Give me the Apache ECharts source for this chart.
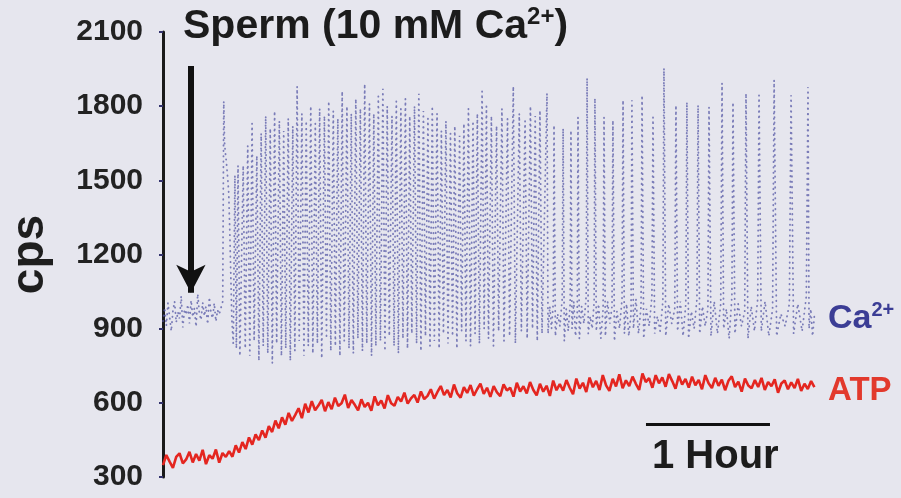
<!DOCTYPE html>
<html>
<head>
<meta charset="utf-8">
<script src="https://cdn.jsdelivr.net/npm/echarts@6/dist/echarts.min.js"></script>
<style>
html, body { margin: 0; padding: 0; background: #e6e6ee; }
#chart { width: 901px; height: 498px; }
</style>
</head>
<body>
<div id="chart"></div>
<script>
// time axis in minutes, y in cps
var yMin = 300, yMax = 2100, yStep = 300;

// Ca2+ trace before sperm addition (one reading every caPreStep min)
var caPreStep = 0.8;
var caPreValues = [930, 985, 912, 1004, 948, 890, 972, 1010, 925, 968,
  941, 1032, 905, 979, 956, 998, 921, 1015, 947, 983,
  908, 1041, 962, 935, 1006, 951, 990, 918, 1027, 964,
  942, 1003, 929, 975, 958];

// first response right after sperm
var caTransTime = [28.0, 28.9, 29.4, 29.8, 30.2, 30.6, 31.0, 31.4, 31.8, 32.3, 32.8, 33.3, 34.0, 34.8, 35.5, 36.3, 37.2];
var caTransValues = [955, 1010, 1820, 1650, 1610, 1580, 1540, 1500, 1450, 1300, 1120, 940, 840, 1520, 820, 1560, 790];

// fast oscillations: spike times, peaks and the trough after each
var denseTime = [38.8, 41.0, 43.1, 45.4, 47.5, 49.7, 51.9, 54.0, 56.3, 58.4,
  60.6, 62.8, 64.9, 67.2, 69.3, 71.5, 73.7, 75.8, 78.1, 80.2,
  82.4, 84.6, 86.7, 89.0, 91.1, 93.3, 95.5, 97.6, 99.9, 102.0,
  104.2, 106.4, 108.5, 110.8, 112.9, 115.1, 117.3, 119.4, 121.7, 123.8,
  126.0, 128.2, 130.3, 132.6, 134.7, 136.9, 139.1, 141.2, 143.5, 145.6,
  147.8, 150.0, 152.1, 154.4, 156.5, 158.9, 161.4, 164.0, 166.7, 169.5,
  172.4, 175.2, 177.8, 180.1, 182.4];
var densePeak = [1560, 1640, 1730, 1600, 1690, 1760, 1710, 1780, 1740, 1700,
  1750, 1720, 1880, 1770, 1740, 1800, 1730, 1790, 1760, 1820,
  1780, 1750, 1860, 1800, 1770, 1830, 1790, 1890, 1810, 1770,
  1840, 1870, 1800, 1760, 1820, 1790, 1830, 1760, 1800, 1850,
  1780, 1750, 1800, 1770, 1700, 1740, 1690, 1720, 1680, 1730,
  1790, 1740, 1770, 1860, 1800, 1760, 1720, 1790, 1750, 1880,
  1770, 1740, 1800, 1760, 1783];
var denseTrough = [820, 790, 850, 770, 830, 800, 760, 840, 790, 820,
  770, 810, 850, 790, 830, 800, 840, 780, 860, 810,
  830, 790, 850, 820, 800, 860, 810, 840, 790, 830,
  850, 810, 870, 830, 800, 860, 820, 880, 840, 810,
  870, 830, 850, 820, 880, 840, 870, 820, 890, 850,
  830, 880, 840, 900, 860, 830, 890, 850, 870, 840,
  890, 860, 900, 850, 880];

// slower oscillations: spike times, peaks, and 4 baseline readings between spikes
var sparseTime = [185.8, 189.2, 193.6, 197.4, 200.8, 205.2, 209.0, 213.4, 217.7, 222.6,
  226.9, 231.8, 237.1, 242.4, 248.2, 253.5, 258.9, 264.2, 270.5, 275.8,
  282.1, 288.4, 295.7, 303.9, 312.1];
var sparsePeak = [1852, 1723, 1710, 1702, 1755, 1913, 1832, 1755, 1743, 1824,
  1824, 1844, 1755, 1954, 1804, 1816, 1804, 1796, 1893, 1816,
  1852, 1844, 1905, 1844, 1877];
var sparseBase = [880, 990, 900, 1010, 870, 960, 910, 1020, 850, 980, 890, 1000,
  900, 1010, 870, 970, 860, 990, 920, 1030, 880, 950, 900, 1010,
  890, 1000, 860, 980, 870, 1010, 920, 990, 850, 970, 900, 1020,
  880, 1000, 870, 960, 900, 1020, 880, 990, 860, 980, 910, 1030,
  880, 950, 890, 1010, 870, 1000, 920, 980, 890, 1010, 870, 1000,
  860, 970, 900, 1020, 880, 990, 910, 980, 870, 1010, 880, 1000,
  900, 980, 860, 1030, 880, 1000, 910, 970, 860, 990, 890, 1020,
  890, 1010, 870, 980, 870, 960, 910, 1000, 880, 1000, 890, 1030,
  900, 980, 870, 950];
var lastGap = 3.4;

// ATP trace, one reading every atpStep min
var atpStep = 1.6;
var atpValues = [348, 389, 362, 337, 381, 396, 355, 371, 402, 359,
  393, 366, 410, 352, 388, 374, 411, 358, 397, 381,
  405, 382, 428, 399, 441, 413, 460, 431, 472, 449,
  488, 459, 506, 482, 528, 497, 541, 512, 559, 527,
  551, 578, 538, 596, 561, 607, 570, 589, 612, 566,
  603, 574, 621, 587, 598, 633, 579, 611, 592, 570,
  614, 583, 600, 568, 626, 590, 609, 577, 631, 598,
  588, 624, 605, 641, 597, 618, 632, 601, 646, 615,
  628, 655, 617, 644, 668, 631, 652, 622, 674, 638,
  621, 663, 640, 672, 629, 655, 678, 636, 661, 624,
  668, 642, 627, 675, 650, 661, 625, 681, 646, 667,
  638, 684, 652, 630, 677, 645, 669, 628, 690, 651,
  676, 649, 692, 661, 635, 698, 658, 681, 644, 702,
  663, 689, 652, 712, 671, 648, 697, 666, 715, 659,
  691, 668, 706, 677, 652, 719, 684, 700, 661, 712,
  679, 703, 665, 716, 688, 657, 709, 674, 697, 662,
  706, 671, 693, 655, 712, 679, 660, 701, 669, 694,
  651, 689, 707, 664, 686, 645, 698, 670, 659, 692,
  664, 701, 652, 684, 667, 695, 641, 678, 690, 655,
  683, 660, 697, 648, 677, 656, 688, 664];

// annotations (data coords)
var arrowTime = 13.5, arrowFrom = 1962, arrowTo = 1045;
var barFrom = 233.7, barTo = 293.7, barLevel = 515;

var caData = [];
var i, k;
for (i = 0; i < caPreValues.length; i++) caData.push([i * caPreStep, caPreValues[i]]);
for (i = 0; i < caTransTime.length; i++) caData.push([caTransTime[i], caTransValues[i]]);
for (i = 0; i < denseTime.length; i++) {
  caData.push([denseTime[i], densePeak[i]]);
  caData.push([denseTime[i] + 1.0, denseTrough[i]]);
}
var frac = [0.15, 0.4, 0.65, 0.9];
for (i = 0; i < sparseTime.length; i++) {
  caData.push([sparseTime[i], sparsePeak[i]]);
  var gap = i < sparseTime.length - 1 ? sparseTime[i + 1] - sparseTime[i] : lastGap;
  for (k = 0; k < 4; k++) caData.push([sparseTime[i] + gap * frac[k], sparseBase[i * 4 + k]]);
}

var atpData = [];
for (i = 0; i < atpValues.length; i++) atpData.push([i * atpStep, atpValues[i]]);

var font = 'Liberation Sans';
var chart = echarts.init(document.getElementById('chart'));
chart.setOption({
  backgroundColor: '#e6e6ee',
  animation: false,
  grid: { left: 163, right: 56, top: 32, bottom: 21, containLabel: false, outerBoundsMode: 'none' },
  xAxis: { type: 'value', min: 0, max: 330, show: false },
  yAxis: {
    type: 'value', min: yMin, max: yMax, interval: yStep,
    name: 'cps', nameLocation: 'middle', nameGap: 110, nameRotate: 90,
    nameTextStyle: { fontSize: 46, fontWeight: 'bold', color: '#1e1e1e', fontFamily: font },
    axisLine: { show: true, lineStyle: { color: '#1a1a1a', width: 3 } },
    axisTick: { show: true, length: 4, lineStyle: { color: '#33336e', width: 2 } },
    axisLabel: {
      fontSize: 30, fontWeight: 'bold', color: '#222', margin: 20, fontFamily: font,
      formatter: function (v) { return String(v); }
    },
    splitLine: { show: false }
  },
  series: [
    {
      type: 'line', data: caData, showSymbol: false, sampling: null,
      lineStyle: { color: '#5558a6', width: 1.8, type: [0.4, 5], cap: 'round', opacity: 0.75 },
      z: 2
    },
    {
      type: 'line', data: atpData, showSymbol: false,
      lineStyle: { color: '#e42620', width: 2.6 },
      z: 3,
      markLine: {
        silent: true, animation: false,
        label: { show: false },
        data: [
          [{ coord: [arrowTime, arrowFrom], symbol: 'none', lineStyle: { width: 6, color: '#111', type: 'solid' } },
           { coord: [arrowTime, arrowTo], symbol: 'arrow', symbolSize: [22, 28] }],
          [{ coord: [barFrom, barLevel], symbol: 'none', lineStyle: { width: 3, color: '#111', type: 'solid' } },
           { coord: [barTo, barLevel], symbol: 'none' }]
        ],
        lineStyle: { color: '#111', width: 3, type: 'solid' }
      }
    }
  ],
  graphic: [
    {
      type: 'text', left: 183, top: 5,
      style: {
        text: '{a|Sperm (10 mM Ca}{s|2+}{a|)}',
        rich: {
          a: { fontSize: 41, fontWeight: 'bold', fontFamily: font, fill: '#1c1c1c', lineHeight: 44 },
          s: { fontSize: 24, fontWeight: 'bold', fontFamily: font, fill: '#1c1c1c', verticalAlign: 'top', lineHeight: 24 }
        }
      }
    },
    {
      type: 'text', left: 828, top: 300,
      style: {
        text: '{a|Ca}{s|2+}',
        rich: {
          a: { fontSize: 34, fontWeight: 'bold', fontFamily: font, fill: '#3b3d95', lineHeight: 38 },
          s: { fontSize: 20, fontWeight: 'bold', fontFamily: font, fill: '#3b3d95', verticalAlign: 'top', lineHeight: 20 }
        }
      }
    },
    {
      type: 'text', left: 828, top: 374,
      style: { text: 'ATP', font: 'bold 33px ' + font, fill: '#e2392c' }
    },
    {
      type: 'text', left: 652, top: 437,
      style: { text: '1 Hour', font: 'bold 40px ' + font, fill: '#1c1c1c' }
    }
  ]
});
</script>
</body>
</html>
